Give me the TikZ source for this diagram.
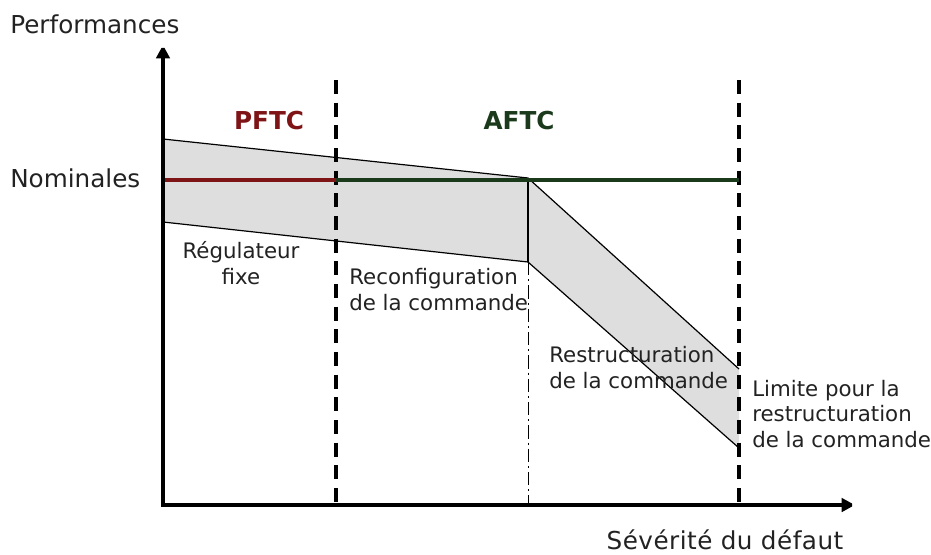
\documentclass[tikz,border=0pt]{standalone}
\usepackage{fontspec}
\setmainfont{DejaVu Sans}
\usepackage{xcolor}
\usepackage{tikz}
\usetikzlibrary{arrows.meta}
\definecolor{pftcred}{HTML}{7F1416}
\definecolor{aftcgreen}{HTML}{1B3A1B}
\definecolor{bandgray}{HTML}{DEDEDE}
\definecolor{txtgray}{HTML}{222222}

\begin{document}
\begin{tikzpicture}[x=0.75pt,y=-0.75pt,
		lbl/.style={font=\fontsize{16}{19}\selectfont, text=txtgray, inner sep=0pt, align=left},
		biglbl/.style={font=\fontsize{18.5}{22}\selectfont, text=txtgray, inner sep=0pt},
		limitline/.style={line width=2.3pt, dash pattern=on 10.5pt off 6.5pt}]
		\useasboundingbox (0,0) rectangle (931,554);
		
		% origine et points des bandes
		\coordinate (O) at (163,505);
		\coordinate (ytip) at (163,45);
		\coordinate (xtip) at (855,505);
		\coordinate (nom) at (163,180);
		\coordinate (p1) at (163,139);
		\coordinate (p2) at (528,178);
		\coordinate (p3) at (528,262);
		\coordinate (p4) at (163,222);
		\coordinate (q1) at (739,369);
		\coordinate (q2) at (739,448);
		
		\fill[bandgray] (p1) -- (p2) -- (p3) -- (p4) -- cycle;
		\fill[bandgray] (p2) -- (q1) -- (q2) -- (p3) -- cycle;
		\draw[line width=0.9pt] (p1) -- (p2) -- (q1);
		\draw[line width=0.9pt] (p4) -- (p3) -- (q2);
		\draw[line width=0.9pt] (p2) -- (p3);
		
		\draw[line width=0.75pt, dash pattern=on 10pt off 3pt on 1.5pt off 3pt] (p3) -- (528,505);
		
		\coordinate (l1) at (336,80);
		\coordinate (l2) at (739,80);
		\draw[limitline] (l1) -- (336,502);
		\draw[limitline] (l2) -- (739,502);
		
		\draw[pftcred, line width=3pt] (nom) -- (336,180);
		\draw[aftcgreen, line width=3pt] (336,180) -- (739,180);
		
		\draw[line width=3pt, miter limit=2, {Triangle[length=10pt,width=10pt]}-{Triangle[length=10pt,width=10pt]}] (ytip) -- (O) -- (xtip);
		
		\node[biglbl, anchor=base west] (perf) at (10,33) {Performances};
		\node[biglbl, anchor=base west] (nomlbl) at (10,187) {Nominales};
		\node[biglbl, anchor=base] (sev) at (725,549) {\addfontfeature{LetterSpace=2}Sévérité du défaut};
		
		\node[font=\fontsize{18.5}{22}\bfseries, text=pftcred, inner sep=0pt, anchor=base] (pftc) at (269,129) {PFTC};
		\node[font=\fontsize{18.5}{22}\bfseries, text=aftcgreen, inner sep=0pt, anchor=base] (aftc) at (519,129) {AFTC};
		
		% ancre base = ligne de base de la derniere ligne
		\node[lbl, align=center, anchor=base] (regul) at (241,284) {Régulateur\\fixe};
		\node[lbl, anchor=base west] (reconf) at (349,310) {Reconfiguration\\de la commande};
		\node[lbl, anchor=base west] (restr) at (549,388) {Restructuration\\de la commande};
		\node[lbl, anchor=base west] (limite) at (752,447) {Limite pour la\\restructuration\\de la commande};
	\end{tikzpicture}
\end{document}
